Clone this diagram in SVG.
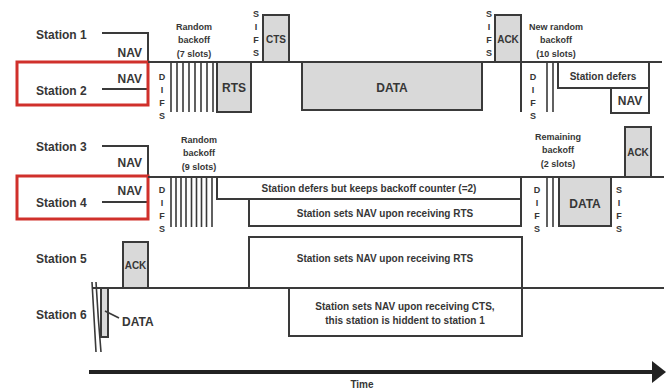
<svg xmlns="http://www.w3.org/2000/svg" width="666" height="390" viewBox="0 0 666 390">
<defs>
<style>
.ln{stroke:#3a3a3a;stroke-width:2;fill:none}
.tl{stroke:#3a3a3a;stroke-width:1.6;fill:none}
.box{stroke:#3a3a3a;stroke-width:2;fill:#d9d9d9}
.red{stroke:#d0302b;stroke-width:3;fill:none}
text{font-family:"Liberation Sans",Arial,sans-serif;font-weight:bold;fill:#363636}
.lab{font-size:12px}
.big{font-size:12px;text-anchor:middle}
.sm{font-size:10px;text-anchor:middle}
.xs{font-size:9px;text-anchor:middle}
.ltr{font-size:9px;text-anchor:middle}
</style>
</defs>
<rect width="666" height="390" fill="#ffffff"/>

<g id="station12">
<text class="lab" x="36" y="39">Station 1</text>
<text class="lab" x="36" y="95">Station 2</text>
<path class="ln" d="M102,33 H148 V89 H102"/>
<text class="lab" x="142" y="57" text-anchor="end">NAV</text>
<text class="lab" x="142" y="83" text-anchor="end">NAV</text>
<rect class="red" x="17" y="62" width="131" height="43"/>
<line class="ln" x1="148" y1="62" x2="662" y2="62"/>
<g class="ltr"><text x="162" y="80">D</text><text x="162" y="93">I</text><text x="162" y="106">F</text><text x="162" y="119">S</text></g>
<path class="tl" d="M171,62V112M177,62V112M183,62V112M189,62V112M195,62V112M201,62V112M207,62V112M213,62V112"/>
<text class="xs" x="194" y="30">Random</text>
<text class="xs" x="194" y="43">backoff</text>
<text class="xs" x="194" y="57">(7 slots)</text>
<rect class="box" x="217" y="62" width="34" height="50"/>
<text class="big" x="234" y="92">RTS</text>
<g class="ltr"><text x="256" y="17">S</text><text x="256" y="30">I</text><text x="256" y="43">F</text><text x="256" y="56">S</text></g>
<rect class="box" x="263" y="15" width="26" height="47"/>
<text class="sm" x="276" y="43">CTS</text>
<rect class="box" x="302" y="62" width="180" height="48"/>
<text class="big" x="392" y="92">DATA</text>
<g class="ltr"><text x="489" y="17">S</text><text x="489" y="30">I</text><text x="489" y="43">F</text><text x="489" y="56">S</text></g>
<rect class="box" x="495" y="15" width="26" height="47"/>
<text class="sm" x="508" y="43">ACK</text>
<line class="ln" x1="521" y1="62" x2="521" y2="112"/>
<text class="xs" x="556" y="30">New random</text>
<text class="xs" x="556" y="43">backoff</text>
<text class="xs" x="556" y="57">(10 slots)</text>
<g class="ltr"><text x="533" y="80">D</text><text x="533" y="93">I</text><text x="533" y="106">F</text><text x="533" y="119">S</text></g>
<path class="tl" d="M547,62V112M553,62V112"/>
<path class="ln" d="M558,62 V88 H649 M611,88 V113 H649 V62"/>
<text class="sm" x="603" y="80">Station defers</text>
<text class="big" x="630" y="105">NAV</text>
</g>

<g id="station34">
<text class="lab" x="36" y="151">Station 3</text>
<text class="lab" x="36" y="207">Station 4</text>
<path class="ln" d="M102,146 H148 V202 H102"/>
<text class="lab" x="142" y="167" text-anchor="end">NAV</text>
<text class="lab" x="142" y="195" text-anchor="end">NAV</text>
<rect class="red" x="17" y="176" width="131" height="43"/>
<line class="ln" x1="148" y1="177" x2="664" y2="177"/>
<g class="ltr"><text x="162" y="193">D</text><text x="162" y="206">I</text><text x="162" y="219">F</text><text x="162" y="232">S</text></g>
<path class="tl" d="M171,177V227M176,177V227M181,177V227M186,177V227M191.5,177V227M196.5,177V227M201.5,177V227M206.5,177V227M212,177V227"/>
<text class="xs" x="199" y="143">Random</text>
<text class="xs" x="199" y="156">backoff</text>
<text class="xs" x="199" y="170">(9 slots)</text>
<path class="ln" d="M217,177 V199 H521 M521,177 V226 H249 V199"/>
<text class="sm" x="369" y="192">Station defers but keeps backoff counter (=2)</text>
<text class="sm" x="385" y="217">Station sets NAV upon receiving RTS</text>
<text class="xs" x="558" y="140">Remaining</text>
<text class="xs" x="558" y="153">backoff</text>
<text class="xs" x="558" y="167">(2 slots)</text>
<rect class="box" x="625" y="127" width="26" height="50"/>
<text class="sm" x="638" y="156">ACK</text>
<g class="ltr"><text x="537" y="193">D</text><text x="537" y="206">I</text><text x="537" y="219">F</text><text x="537" y="232">S</text></g>
<path class="tl" d="M547,177V227M553,177V227"/>
<rect class="box" x="559" y="177" width="52" height="49"/>
<text class="big" x="585" y="208">DATA</text>
<g class="ltr"><text x="619" y="193">S</text><text x="619" y="206">I</text><text x="619" y="219">F</text><text x="619" y="232">S</text></g>
</g>

<g id="station56">
<text class="lab" x="36" y="263">Station 5</text>
<text class="lab" x="36" y="319">Station 6</text>
<rect class="box" x="123" y="242" width="25" height="46"/>
<text class="sm" x="135.5" y="269">ACK</text>
<line class="ln" x1="93" y1="288" x2="664" y2="288"/>
<path class="ln" d="M249,288 V237 H522 V336 H289 V288"/>
<text class="sm" x="385" y="262">Station sets NAV upon receiving RTS</text>
<text class="sm" x="405" y="310">Station sets NAV upon receiving CTS,</text>
<text class="sm" x="405" y="324">this station is hiddent to station 1</text>
<path class="tl" d="M92,282 Q94,318 96,352 M96,282 Q98,318 101,352"/>
<rect class="box" x="101" y="288" width="7" height="49" stroke-width="1.6"/>
<line class="tl" x1="105" y1="311" x2="119" y2="318"/>
<text class="lab" x="122" y="326">DATA</text>
</g>

<g id="connectors">
<line x1="89" y1="372" x2="652" y2="372" stroke="#222" stroke-width="4"/>
<polygon points="652,361 666,372 652,383" fill="#222"/>
<text class="sm" x="362" y="388">Time</text>
</g>
</svg>
